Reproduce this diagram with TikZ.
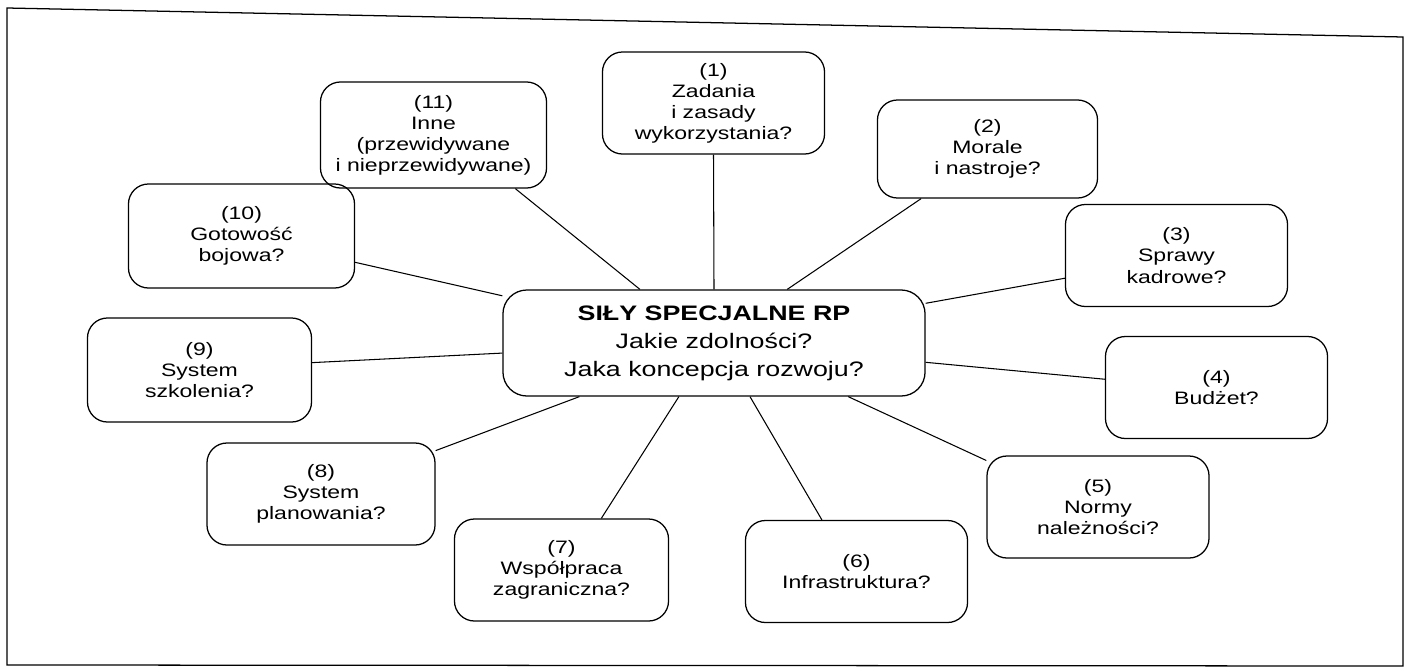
\documentclass[tikz,border=0pt]{standalone}
\usepackage{fontspec}
\setmainfont{Liberation Sans}[FakeStretch=1.28]
\usetikzlibrary{calc}

\tikzset{
  pole/.style={draw, line width=0.9pt, rounded corners=0.5cm, align=center,
    minimum width=5.55cm, minimum height=2.55cm, inner sep=2pt,
    font=\fontsize{12.8}{15}\selectfont},
  srodek/.style={pole, rounded corners=0.6cm, minimum width=10.55cm,
    minimum height=2.65cm, font=\fontsize{14.9}{20}\selectfont},
  linia/.style={line width=0.75pt}
}

\begin{document}
\begin{tikzpicture}[x=0.025cm, y=-0.025cm]
\useasboundingbox (0,0) rectangle (1412,670);
% ramka
\draw[line width=0.9pt] (7,8) -- (1403,37) -- (1403,666) -- (7,665) -- cycle;

\node[srodek] (sily) at (714,343) {\textbf{SIŁY SPECJALNE RP}\\Jakie zdolności?\\Jaka koncepcja rozwoju?};

\node[pole] (p1) at (713.5,103) {(1)\\Zadania\\i zasady\\wykorzystania?};
\node[pole, minimum width=5.5cm, minimum height=2.45cm] (p2) at (987.5,149) {(2)\\Morale\\i nastroje?};
\node[pole] (p3) at (1176.5,255.5) {(3)\\Sprawy\\kadrowe?};
\node[pole] (p4) at (1216.5,387.5) {(4)\\Budżet?};
\node[pole] (p5) at (1098,507) {(5)\\Normy\\należności?};
\node[pole] (p6) at (856.5,571.5) {(6)\\Infrastruktura?};
\node[pole, minimum width=5.35cm] (p7) at (561.5,570) {(7)\\Współpraca\\zagraniczna?};
\node[pole, minimum width=5.7cm] (p8) at (321,494) {(8)\\System\\planowania?};
\node[pole, minimum width=5.6cm, minimum height=2.6cm] (p9) at (199.5,370) {(9)\\System\\szkolenia?};
\node[pole, minimum width=5.65cm, minimum height=2.6cm] (p10) at (241.5,236) {(10)\\Gotowość\\bojowa?};
\node[pole, minimum width=5.65cm, minimum height=2.65cm] (p11) at (433.5,135) {(11)\\Inne\\(przewidywane\\i nieprzewidywane)};

% polaczenia z polem srodkowym
\draw[linia] (p1.south) -- (sily.north);
\draw[linia] ($(p2.south west)!.2!(p2.south east)$) -- ($(sily.north west)!.673!(sily.north east)$);
\draw[linia] ($(p3.north west)!.72!(p3.south west)$) -- ($(sily.north east)!.13!(sily.south east)$);
\draw[linia] ($(p4.north west)!.42!(p4.south west)$) -- ($(sily.north east)!.68!(sily.south east)$);
\draw[linia] ($(p5.north west)!.05!(p5.south west)$) -- ($(sily.south west)!.817!(sily.south east)$);
\draw[linia] ($(p6.north west)!.345!(p6.north east)$) -- ($(sily.south west)!.585!(sily.south east)$);
\draw[linia] ($(p7.north west)!.685!(p7.north east)$) -- ($(sily.south west)!.417!(sily.south east)$);
\draw[linia] ($(p8.north east)!.08!(p8.south east)$) -- ($(sily.south west)!.182!(sily.south east)$);
\draw[linia] ($(p9.north east)!.43!(p9.south east)$) -- ($(sily.north west)!.594!(sily.south west)$);
\draw[linia] ($(p10.north east)!.75!(p10.south east)$) -- ($(sily.north west)!.06!(sily.south west)$);
\draw[linia] ($(p11.south west)!.86!(p11.south east)$) -- ($(sily.north west)!.325!(sily.north east)$);
\end{tikzpicture}
\end{document}
